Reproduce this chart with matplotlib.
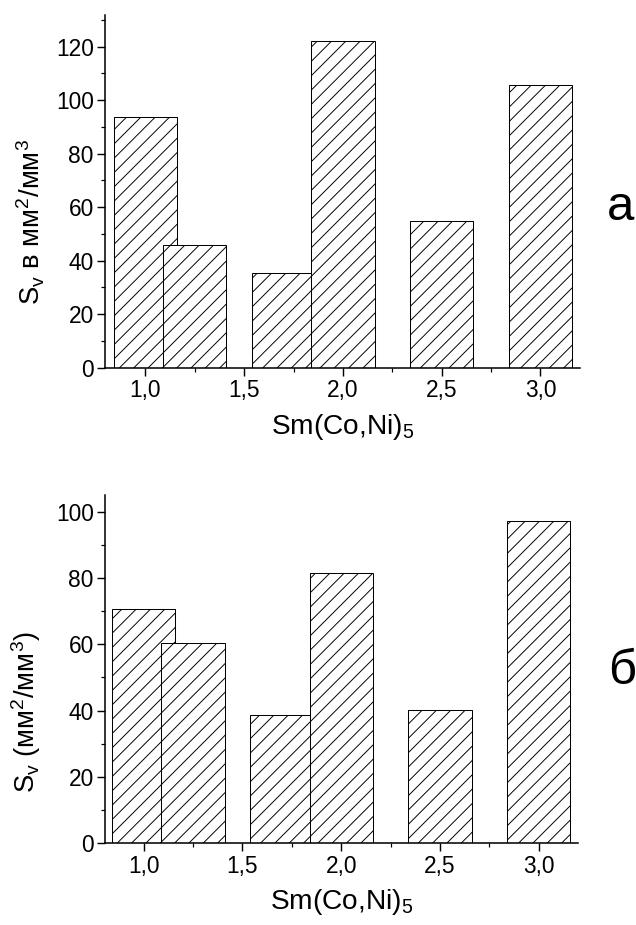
import matplotlib
matplotlib.use("Agg")
import matplotlib.pyplot as plt
from matplotlib.ticker import FixedLocator, FixedFormatter, MultipleLocator

plt.rcParams['font.family'] = ['Liberation Sans', 'DejaVu Sans']
plt.rcParams['mathtext.fontset'] = 'custom'
plt.rcParams['mathtext.rm'] = 'Liberation Sans'
plt.rcParams['mathtext.it'] = 'Liberation Sans'
plt.rcParams['hatch.linewidth'] = 0.8

# data
x_pos = [1.0, 1.25, 1.7, 2.0, 2.5, 3.0]
sv_a = [93.5, 45.9, 35.3, 122.2, 55.0, 105.7]
sv_b = [70.5, 60.5, 38.6, 81.4, 40.2, 97.3]
x_ticks = [1.0, 1.5, 2.0, 2.5, 3.0]
x_ticklabels = ["1,0", "1,5", "2,0", "2,5", "3,0"]
xlabel = "Sm(Co,Ni)$_5$"
ylabel_a = "S$_v$ в мм$^2$/мм$^3$"
ylabel_b = "S$_v$ (мм$^2$/мм$^3$)"

DPI = 86
fig = plt.figure(figsize=(636 / DPI, 925 / DPI), dpi=DPI)

ax1 = fig.add_axes([105 / 636, 1 - 367.7 / 925, 475 / 636, 352.7 / 925])
ax2 = fig.add_axes([105 / 636, 1 - 843.3 / 925, 473.3 / 636, 348.3 / 925])


def style(ax, vals, ylim, xlim, major, minor):
    ax.bar(x_pos, vals, width=0.32, color='white', edgecolor='black',
           linewidth=0.85, hatch='//')
    ax.set_xlim(*xlim)
    ax.set_ylim(*ylim)
    ax.xaxis.set_major_locator(FixedLocator(x_ticks))
    ax.xaxis.set_major_formatter(FixedFormatter(x_ticklabels))
    ax.xaxis.set_minor_locator(MultipleLocator(0.25))
    ax.yaxis.set_major_locator(MultipleLocator(major))
    ax.yaxis.set_minor_locator(MultipleLocator(minor))
    for s in ['top', 'right']:
        ax.spines[s].set_visible(False)
    for s in ['left', 'bottom']:
        ax.spines[s].set_linewidth(1.3)
    ax.tick_params(which='major', direction='out', length=6.5, width=1.2,
                   labelsize=19, pad=3)
    ax.tick_params(which='minor', direction='out', length=3.5, width=1.0)


style(ax1, sv_a, (0, 131.8), (0.795, 3.2), 20, 10)
style(ax2, sv_b, (0, 105), (0.805, 3.2), 20, 10)

for ax in (ax1, ax2):
    ax.set_xlabel(xlabel, fontsize=23.5, labelpad=8)

fig.text(31 / 636, 1 - 222 / 925, ylabel_a, rotation=90, fontsize=23,
         ha='center', va='center')
fig.text(26 / 636, 1 - 712 / 925, ylabel_b, rotation=90, fontsize=23,
         ha='center', va='center')

fig.text(621 / 636, 1 - 208 / 925, "а", fontsize=41, ha='center', va='center')
fig.text(622 / 636, 1 - 671 / 925, "б", fontsize=41, ha='center', va='center')

fig.savefig("out.png", dpi=DPI)
